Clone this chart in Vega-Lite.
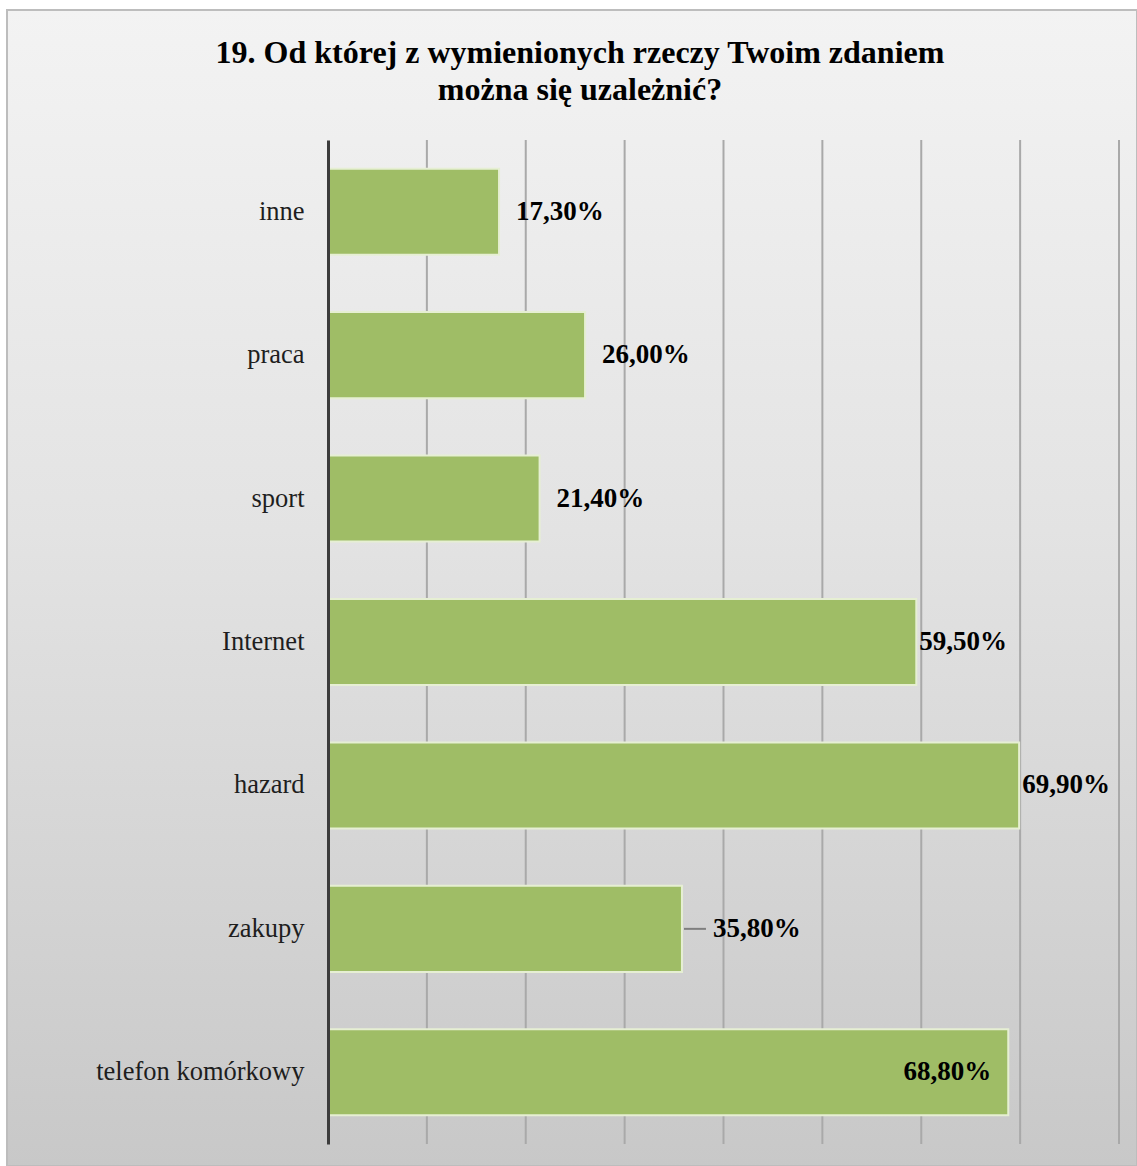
{
  "$schema": "https://vega.github.io/schema/vega-lite/v6.json",
  "autosize": "none",
  "padding": {"left": 7, "top": 10, "right": 0, "bottom": 0},
  "width": 1130,
  "height": 1156,
  "background": "#ffffff",
  "title": {
    "text": ["19. Od której z wymienionych rzeczy Twoim zdaniem", "można się uzależnić?"],
    "font": "Liberation Serif",
    "fontSize": 32,
    "fontWeight": "bold",
    "color": "#000000",
    "anchor": "middle",
    "frame": "group",
    "dx": 8,
    "offset": -97,
    "lineHeight": 37
  },
  "datasets": {
    "odpowiedzi": [
      {"kategoria": "inne", "pct": 0.173},
      {"kategoria": "praca", "pct": 0.26},
      {"kategoria": "sport", "pct": 0.214},
      {"kategoria": "Internet", "pct": 0.595},
      {"kategoria": "hazard", "pct": 0.699},
      {"kategoria": "zakupy", "pct": 0.358},
      {"kategoria": "telefon komórkowy", "pct": 0.688}
    ],
    "siatka": [
      {"pct": 0.1}, {"pct": 0.2}, {"pct": 0.3}, {"pct": 0.4},
      {"pct": 0.5}, {"pct": 0.6}, {"pct": 0.7}, {"pct": 0.8}
    ]
  },
  "data": {"name": "odpowiedzi"},
  "encoding": {
    "y": {
      "field": "kategoria",
      "type": "nominal",
      "sort": ["inne", "praca", "sport", "Internet", "hazard", "zakupy", "telefon komórkowy"],
      "scale": {"range": [130, 1134], "paddingInner": 0.4, "paddingOuter": 0.2},
      "axis": {
        "title": null,
        "offset": -321,
        "zindex": 2,
        "ticks": false,
        "labelPadding": 24,
        "labelLimit": 400,
        "labelFont": "Liberation Serif",
        "labelFontSize": 26.5,
        "labelColor": "#1e1e1e",
        "domainColor": "#3c3c3c",
        "domainWidth": 3,
        "grid": false
      }
    },
    "x": {
      "field": "pct",
      "type": "quantitative",
      "scale": {"domain": [0, 0.8], "range": [321, 1112], "nice": false},
      "axis": null
    }
  },
  "layer": [
    {
      "data": {"name": "siatka"},
      "mark": {"type": "rule", "color": "#a9a9a9", "strokeWidth": 2, "yOffset": -71.7, "y2Offset": 71.7},
      "encoding": {
        "x": {"field": "pct", "type": "quantitative"},
        "y": {"datum": "inne", "type": "nominal"},
        "y2": {"datum": "telefon komórkowy"}
      }
    },
    {
      "mark": {"type": "bar", "fill": "#9fbd66", "stroke": "#e6efd3", "strokeWidth": 2}
    },
    {
      "transform": [{"filter": "indexof(['inne','praca','sport'], datum.kategoria) >= 0"}],
      "mark": {"type": "text", "align": "left", "dx": 17, "font": "Liberation Serif", "fontSize": 27, "fontWeight": "bold", "color": "#000000"},
      "encoding": {"text": {"field": "pct", "type": "quantitative", "format": ".2%"}}
    },
    {
      "transform": [{"filter": "indexof(['Internet','hazard'], datum.kategoria) >= 0"}],
      "mark": {"type": "text", "align": "left", "dx": 3, "font": "Liberation Serif", "fontSize": 27, "fontWeight": "bold", "color": "#000000"},
      "encoding": {"text": {"field": "pct", "type": "quantitative", "format": ".2%"}}
    },
    {
      "transform": [{"filter": "datum.kategoria === 'zakupy'"}],
      "mark": {"type": "text", "align": "left", "dx": 31, "font": "Liberation Serif", "fontSize": 27, "fontWeight": "bold", "color": "#000000"},
      "encoding": {"text": {"field": "pct", "type": "quantitative", "format": ".2%"}}
    },
    {
      "transform": [{"filter": "datum.kategoria === 'zakupy'"}],
      "mark": {"type": "rule", "color": "#7f7f7f", "strokeWidth": 2, "xOffset": 2, "x2Offset": 24},
      "encoding": {"x2": {"field": "pct"}}
    },
    {
      "transform": [{"filter": "datum.kategoria === 'telefon komórkowy'"}],
      "mark": {"type": "text", "align": "right", "dx": -17, "font": "Liberation Serif", "fontSize": 27, "fontWeight": "bold", "color": "#000000"},
      "encoding": {"text": {"field": "pct", "type": "quantitative", "format": ".2%"}}
    }
  ],
  "config": {
    "locale": {"number": {"decimal": ",", "thousands": " ", "grouping": [3], "currency": ["", " zł"]}},
    "view": {
      "fill": {
        "gradient": "linear",
        "x1": 0, "y1": 0, "x2": 0, "y2": 1,
        "stops": [
          {"offset": 0, "color": "#f3f3f3"},
          {"offset": 0.45, "color": "#e3e3e3"},
          {"offset": 1, "color": "#c8c8c8"}
        ]
      },
      "stroke": "#bdbdbd",
      "strokeWidth": 2
    }
  }
}
